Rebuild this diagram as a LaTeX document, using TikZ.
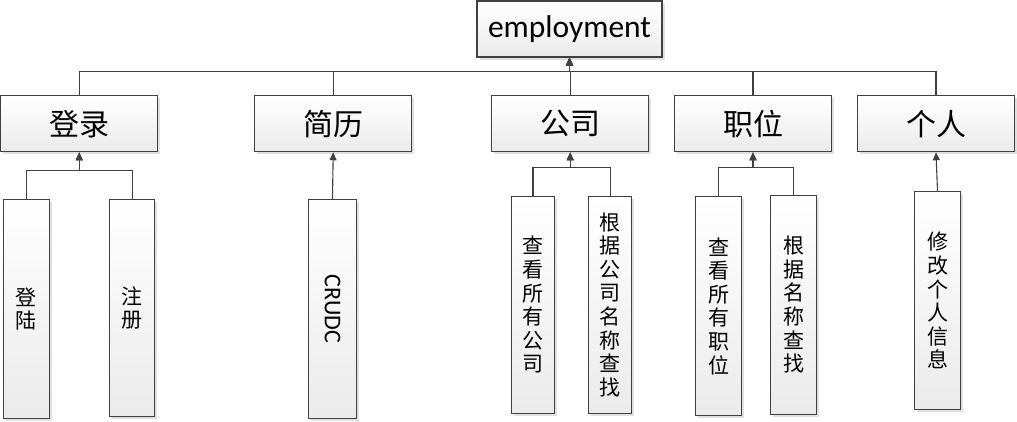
\documentclass[tikz,border=0pt]{standalone}
\usepackage{fontspec}
\usepackage{graphicx}
\setmainfont{Carlito}
\newfontfamily\cjk{Noto Sans CJK SC}
\usetikzlibrary{arrows.meta,shadows}
\definecolor{linegray}{HTML}{404040}
\begin{document}
\begin{tikzpicture}[x=1pt, y=-1pt, >={Triangle[length=8pt,width=7pt]},
    box/.style={draw=linegray, line width=1.1pt, top color=white, bottom color=black!8, inner sep=0pt,
        drop shadow={shadow xshift=2.5pt, shadow yshift=-2.5pt, fill=black!12, opacity=1}},
    topbox/.style={box, minimum width=185pt, minimum height=56pt, font=\fontsize{31.5}{33}\selectfont},
    midbox/.style={box, minimum width=157pt, minimum height=56pt, font=\cjk\fontsize{30}{32}\selectfont},
    leafbox/.style={box, minimum width=46pt, minimum height=219pt, align=center, font=\cjk\fontsize{21}{23.6}\selectfont},
    link/.style={draw=linegray, line width=1.1pt}]
    \useasboundingbox (0,0) rectangle (1017,421);
    % top
    \node[topbox] (employ) at (569.5,29) {employment};
    % second level
    \node[midbox] (login) at (79.2,123.7) {登录};
    \node[midbox] (resume) at (333.2,123.7) {简历};
    \node[midbox] (company) at (570.2,123.7) {公司};
    \node[midbox] (job) at (753,123.7) {职位};
    \node[midbox] (person) at (936,123.7) {个人};
    % leaves
    \node[leafbox] (signin) at (26.5,309) {登\\陆};
    \node[leafbox, minimum width=45pt, minimum height=217pt] (signup) at (132.2,308) {注\\册};
    \node[leafbox, minimum width=48pt, font=\fontsize{24}{26}\selectfont] (crud) at (332.5,309) {\rotatebox{-90}{CRUDC}};
    \node[leafbox, minimum width=43pt, minimum height=217pt] (allcomp) at (533,304.8) {查\\看\\所\\有\\公\\司};
    \node[leafbox, minimum width=43pt, minimum height=217pt] (findcomp) at (610.2,304.8) {根\\据\\公\\司\\名\\称\\查\\找};
    \node[leafbox] (alljob) at (718.5,306) {查\\看\\所\\有\\职\\位};
    \node[leafbox] (findjob) at (793.5,304.8) {根\\据\\名\\称\\查\\找};
    \node[leafbox, minimum height=218pt] (editinfo) at (937.5,300.8) {修\\改\\个\\人\\信\\息};
    % buses
    \coordinate (bus) at (569.5,71.3);
    \coordinate (bus1) at (79.2,170.3);
    \coordinate (bus2) at (570.2,167.3);
    \coordinate (bus3) at (753,167.3);
    \draw[link,->] (login.north) |- (bus) -- (employ.south);
    \draw[link,->] (resume.north) |- (bus) -- (employ.south);
    \draw[link,->] (company.north) |- (bus) -- (employ.south);
    \draw[link,->] (job.north) |- (bus) -- (employ.south);
    \draw[link,->] (person.north) |- (bus) -- (employ.south);
    \draw[link,->] (signin.north) |- (bus1) -- (login.south);
    \draw[link,->] (signup.north) |- (bus1) -- (login.south);
    \draw[link,->] (crud.north) -- (resume.south);
    \draw[link,->] (allcomp.north) |- (bus2) -- (company.south);
    \draw[link,->] (findcomp.north) |- (bus2) -- (company.south);
    \draw[link,->] (alljob.north) |- (bus3) -- (job.south);
    \draw[link,->] (findjob.north) |- (bus3) -- (job.south);
    \draw[link,->] (editinfo.north) -- (person.south);
\end{tikzpicture}
\end{document}
